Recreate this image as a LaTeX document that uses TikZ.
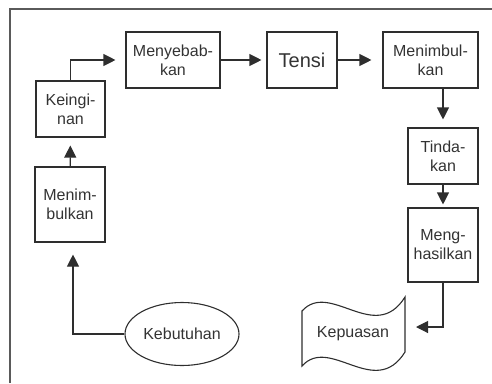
\documentclass[tikz,border=0pt]{standalone}
\usepackage{fontspec}
\setmainfont{Liberation Sans}
\usetikzlibrary{arrows.meta, shapes.geometric}
\definecolor{LinieDunkel}{HTML}{2E2E2E}
\definecolor{TextDunkel}{HTML}{333333}
\definecolor{RahmenGrau}{HTML}{5A5A5A}

\begin{document}
\begin{tikzpicture}[x=1pt, y=-1pt,
  kasten/.style={draw=LinieDunkel, line width=1.1pt, inner sep=0pt, align=center,
    text=TextDunkel, font=\fontsize{16}{19}\selectfont},
  pfeil/.style={draw=LinieDunkel, line width=1.1pt, -{Triangle[length=12pt,width=12pt]}}]

  % Bildgrenzen und Rahmen
  \useasboundingbox (0,0) rectangle (492,383);
  \draw[RahmenGrau, line width=2pt] (10,383) -- (10,9) -- (492,9);

  % Kästen der oberen Reihe
  \node[kasten, minimum width=94pt, minimum height=56pt] (sebab) at (173,60) {Menyebab-\\kan};
  \node[kasten, minimum width=70pt, minimum height=56pt, font=\fontsize{20}{24}\selectfont] (tensi) at (302,60) {Tensi};
  \node[kasten, minimum width=95pt, minimum height=56pt] (timbul) at (430.5,60) {Menimbul-\\kan};

  % Rechte Spalte
  \node[kasten, minimum width=70pt, minimum height=56pt] (tindak) at (443,156) {Tinda-\\kan};
  \node[kasten, minimum width=70pt, minimum height=74pt] (hasil) at (443,245) {Meng-\\hasilkan};

  % Linke Spalte
  \node[kasten, minimum width=69pt, minimum height=56pt] (ingin) at (70.5,109) {Keingi-\\nan};
  \node[kasten, minimum width=70pt, minimum height=75pt] (menim) at (70,204.5) {Menim-\\bulkan};

  % Ausgangspunkt: Ellipse
  \node[kasten, ellipse, minimum width=114pt, minimum height=63pt] (butuh) at (182,334) {Kebutuhan};

  % Endpunkt: Band-Form
  \draw[LinieDunkel, line width=1.1pt] (302,311) .. controls (330,280) and (375,345) .. (405,297)
    -- (405,352) .. controls (375,400) and (330,335) .. (302,366) -- cycle;
  \node[kasten, draw=none] (puas) at (353,334) {Kepuasan};
  \coordinate (puasein) at (416,327);

  % Verbindungen
  \draw[pfeil, shorten >=12pt] (butuh.west) -| ([xshift=3pt]menim.south);
  \draw[pfeil, shorten >=8pt] (menim) -- (ingin);
  \draw[pfeil, shorten >=10pt] (ingin.north) |- (sebab.west);
  \draw[pfeil, shorten >=5pt] (sebab) -- (tensi);
  \draw[pfeil, shorten >=11pt] (tensi) -- (timbul);
  \draw[pfeil, shorten >=8pt] (timbul.south -| tindak.north) -- (tindak.north);
  \draw[pfeil, shorten >=3pt] (tindak) -- (hasil);
  \draw[pfeil] (hasil.south) |- (puasein);

\end{tikzpicture}
\end{document}
